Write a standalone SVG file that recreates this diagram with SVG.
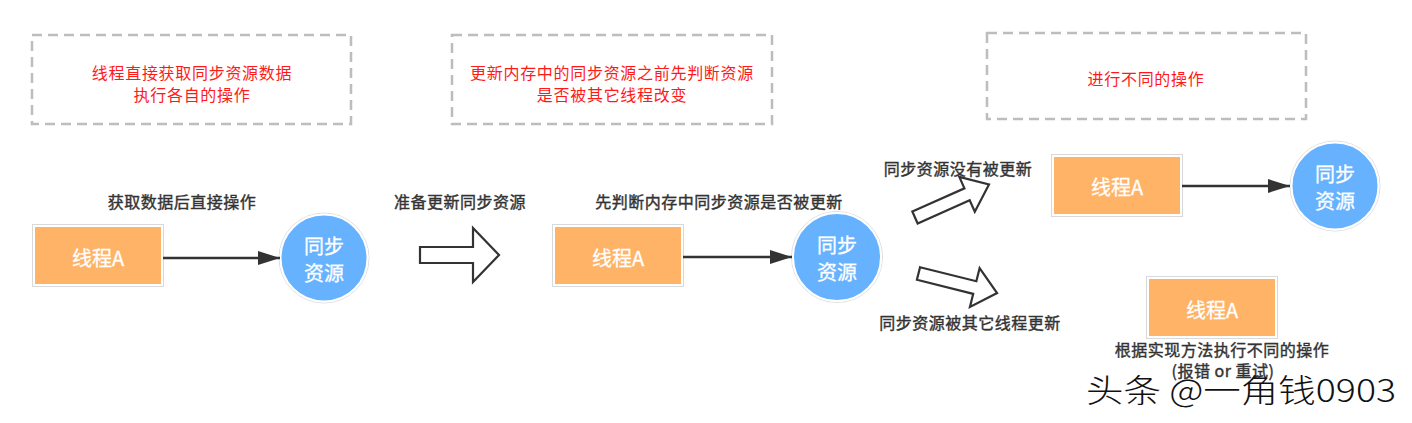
<svg xmlns="http://www.w3.org/2000/svg" width="1412" height="423" viewBox="0 0 1412 423">
<style>
  text { font-family: "Noto Sans CJK SC", "Noto Sans", sans-serif; }
  .note { fill: none; stroke: #bdbdbd; stroke-width: 2.5; stroke-dasharray: 10 6; }
  .red { fill: #ff1a1a; font-size: 16px; letter-spacing: 0.7px; text-anchor: middle; dominant-baseline: central; }
  .lbl { fill: #333333; stroke: #333333; stroke-width: 0.4; font-size: 16px; letter-spacing: 0.5px; text-anchor: middle; dominant-baseline: central; }
  .thread { fill: #ffb366; stroke: #ffffff; stroke-width: 2; }
  .threadOut { fill: none; stroke: #d9d9d9; stroke-width: 1; }
  .res { fill: #66b2ff; stroke: #ffffff; stroke-width: 2; }
  .resOut { fill: none; stroke: #dddddd; stroke-width: 1; }
  .wt { fill: #ffffff; stroke: #ffffff; stroke-width: 0.3; font-size: 20px; text-anchor: middle; dominant-baseline: central; }
  .conn { stroke: #333333; stroke-width: 2.5; fill: none; }
  .block { fill: #ffffff; stroke: #333333; stroke-width: 2.2; stroke-linejoin: miter; }
  .mark { fill: #111111; font-size: 32px; font-weight: 300; }
</style>
<defs>
  <marker id="ah" markerUnits="userSpaceOnUse" markerWidth="22" markerHeight="14" refX="22" refY="7" orient="auto">
    <path d="M0,0 L22,7 L0,14 z" fill="#333333"/>
  </marker>
</defs>
<rect width="1412" height="423" fill="#ffffff"/>

<g id="note1">
  <rect class="note" x="32" y="35" width="319" height="89"/>
  <text class="red" x="192" y="72">线程直接获取同步资源数据</text>
  <text class="red" x="192" y="94">执行各自的操作</text>
</g>
<g id="note2">
  <rect class="note" x="452" y="35" width="320" height="89"/>
  <text class="red" x="612" y="72">更新内存中的同步资源之前先判断资源</text>
  <text class="red" x="612" y="94">是否被其它线程改变</text>
</g>
<g id="note3">
  <rect class="note" x="987" y="33" width="319" height="86"/>
  <text class="red" x="1146" y="78">进行不同的操作</text>
</g>

<g id="label1"><text class="lbl" x="182" y="201">获取数据后直接操作</text></g>
<g id="label2"><text class="lbl" x="460" y="201">准备更新同步资源</text></g>
<g id="label3"><text class="lbl" x="719" y="201">先判断内存中同步资源是否被更新</text></g>
<g id="label4"><text class="lbl" x="958" y="168">同步资源没有被更新</text></g>
<g id="label5"><text class="lbl" x="970" y="322">同步资源被其它线程更新</text></g>
<g id="label6">
  <text class="lbl" x="1222" y="349">根据实现方法执行不同的操作</text>
  <text class="lbl" x="1223" y="370">(报错 or 重试)</text>
</g>

<g id="thread1">
  <rect class="threadOut" x="32.5" y="224.5" width="131" height="62"/>
  <rect class="thread" x="34" y="226" width="128" height="59"/>
  <text class="wt" x="98" y="257">线程A</text>
</g>
<g id="res1">
  <circle class="resOut" cx="324" cy="258" r="45"/>
  <circle class="res" cx="324" cy="258" r="43.5"/>
  <text class="wt" x="324" y="245">同步</text>
  <text class="wt" x="324" y="272">资源</text>
</g>

<g id="thread2">
  <rect class="threadOut" x="552.5" y="224.5" width="131" height="62"/>
  <rect class="thread" x="554" y="226" width="128" height="59"/>
  <text class="wt" x="618" y="257">线程A</text>
</g>
<g id="res2">
  <circle class="resOut" cx="837" cy="257" r="45.5"/>
  <circle class="res" cx="837" cy="257" r="44"/>
  <text class="wt" x="837" y="244">同步</text>
  <text class="wt" x="837" y="271">资源</text>
</g>

<g id="thread3">
  <rect class="threadOut" x="1051.5" y="154.5" width="131" height="62"/>
  <rect class="thread" x="1053" y="156" width="128" height="59"/>
  <text class="wt" x="1117" y="186">线程A</text>
</g>
<g id="res3">
  <circle class="resOut" cx="1335" cy="186" r="45"/>
  <circle class="res" cx="1335" cy="186" r="43.5"/>
  <text class="wt" x="1335" y="173">同步</text>
  <text class="wt" x="1335" y="200">资源</text>
</g>

<g id="thread4">
  <rect class="threadOut" x="1146.5" y="276.5" width="131" height="62"/>
  <rect class="thread" x="1148" y="278" width="128" height="59"/>
  <text class="wt" x="1212" y="309">线程A</text>
</g>

<g id="connectors">
  <line class="conn" x1="163" y1="258" x2="280" y2="258" marker-end="url(#ah)"/>
  <line class="conn" x1="683" y1="257" x2="792" y2="257" marker-end="url(#ah)"/>
  <line class="conn" x1="1182" y1="186" x2="1290" y2="186" marker-end="url(#ah)"/>
  <polygon class="block" points="420,247 473,247 473,228 499,255 473,282 473,263 420,263"/>
  <polygon class="block" transform="translate(915,217.5) rotate(-24)" points="0,-6.5 57,-6.5 57,-19 81,0 57,19 57,6.5 0,6.5"/>
  <polygon class="block" transform="translate(918.5,273.5) rotate(14)" points="0,-6.5 58,-6.5 58,-20 81,0 58,20 58,6.5 0,6.5"/>
</g>

<g id="watermark">
  <text class="mark" x="1086" y="402" textLength="310" lengthAdjust="spacingAndGlyphs">头条 @一角钱0903</text>
</g>
</svg>
